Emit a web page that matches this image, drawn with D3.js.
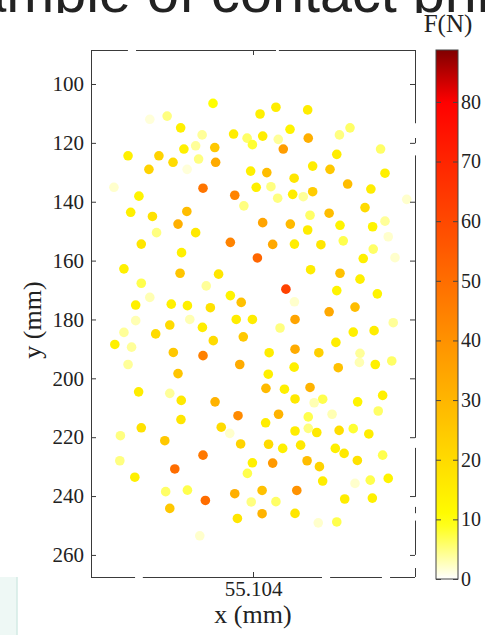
<!DOCTYPE html>
<html>
<head>
<meta charset="utf-8">
<script src="https://cdn.jsdelivr.net/npm/d3@7"></script>
<style>
  html, body { margin: 0; padding: 0; background: #fff; }
  svg { display: block; }
  text { font-family: "Liberation Serif", "Times New Roman", serif; fill: #222; }
</style>
</head>
<body>
<svg id="chart" width="485" height="635"></svg>
<script>
// Contact points: x / y position (mm) and contact force F (N)
const xMm = [
  41.5, 20.0, 25.9, 30.5, 37.8, 48.5, 53.1, 54.9, 12.6, 23.1,
  31.6, 35.6, 42.1, 42.4, 27.9, 36.6, 32.7, 19.7, 54.3, 56.2,
  7.8, 16.3, 38.1, 48.9, 52.0, 13.5, 20.9, 32.6, 29.6, 35.6,
  22.3, 17.1, 30.8, 47.4, 56.6, 57.5, 62.9, 73.7, 67.7, 58.4,
  63.7, 73.9, 65.4, 84.5, 88.1, 98.5, 83.6, 59.8, 69.1, 75.4,
  81.3, 100.0, 61.2, 68.6, 72.2, 63.5, 75.4, 87.3, 95.2, 107.4,
  93.2, 74.5, 81.0, 58.4, 67.8, 73.7, 84.7, 95.8, 100.0, 101.1,
  85.8, 61.8, 69.2, 78.2, 96.0, 92.6, 103.4, 11.2, 30.3, 43.4,
  17.1, 39.2, 20.0, 15.2, 27.3, 32.8, 40.6, 47.4, 51.1, 49.4,
  54.9, 15.2, 33.6, 26.8, 37.9, 11.2, 22.0, 41.6, 51.8, 8.1,
  13.8, 28.0, 38.1, 50.6, 12.6, 29.6, 16.2, 26.8, 30.7, 42.2,
  50.0, 30.6, 74.7, 84.7, 91.5, 66.3, 83.6, 97.4, 69.2, 81.0,
  89.8, 69.4, 64.3, 89.2, 96.3, 102.8, 83.3, 60.6, 69.4, 77.5,
  91.5, 91.3, 96.7, 102.3, 84.1, 69.1, 60.3, 59.5, 65.8, 74.5,
  69.4, 78.8, 90.7, 99.2, 75.9, 97.7, 63.8, 73.9, 82.0, 59.4,
  17.1, 10.0, 25.1, 44.3, 47.2, 50.9, 38.1, 9.8, 28.5, 14.9,
  54.9, 53.2, 25.4, 32.8, 38.9, 48.9, 54.5, 26.8, 49.8, 37.0,
  69.4, 73.9, 76.8, 84.4, 89.2, 94.5, 60.4, 65.2, 71.3, 83.1,
  86.1, 90.6, 99.2, 61.8, 73.5, 77.7, 78.8, 89.8, 95.0, 101.1,
  58.2, 70.0, 62.9, 86.3, 95.7, 58.2, 69.4, 77.3, 83.6
];
const yMm = [
  106.6, 112.0, 110.9, 114.9, 117.3, 117.0, 118.4, 120.6, 124.4, 124.4,
  122.1, 121.0, 121.6, 126.6, 126.6, 125.5, 129.0, 129.0, 129.6, 135.1,
  135.1, 138.1, 135.4, 137.8, 141.4, 143.6, 145.0, 143.3, 147.6, 150.5,
  150.5, 154.4, 157.3, 153.8, 159.1, 110.2, 107.9, 108.8, 115.4, 117.7,
  118.8, 118.4, 122.1, 117.3, 114.9, 122.1, 123.9, 130.1, 132.0, 127.9,
  129.0, 130.3, 134.9, 137.5, 138.3, 138.8, 136.6, 134.0, 135.7, 139.2,
  142.0, 144.6, 143.9, 147.1, 147.6, 149.6, 148.0, 148.5, 146.6, 151.9,
  153.3, 154.5, 154.4, 154.6, 156.1, 159.3, 159.0, 162.8, 164.3, 164.6,
  167.7, 168.6, 172.5, 175.1, 174.8, 175.3, 176.0, 171.9, 174.2, 180.0,
  180.0, 180.4, 180.0, 181.9, 182.7, 184.4, 184.9, 187.2, 185.9, 188.5,
  189.4, 191.2, 192.3, 195.3, 195.3, 198.4, 204.6, 205.1, 207.5, 208.0,
  212.7, 214.0, 163.1, 164.3, 166.3, 169.7, 170.2, 171.3, 174.0, 177.4,
  175.8, 180.0, 182.9, 184.3, 183.8, 181.1, 187.8, 191.3, 190.1, 191.3,
  191.5, 194.6, 195.3, 194.1, 196.4, 196.2, 198.6, 203.4, 203.7, 203.1,
  207.0, 207.1, 208.0, 205.8, 208.3, 211.1, 212.2, 213.1, 212.2, 215.1,
  216.8, 219.5, 221.2, 216.6, 218.7, 222.3, 226.1, 228.0, 230.8, 233.6,
  228.7, 232.3, 238.5, 238.0, 241.5, 239.2, 242.0, 244.2, 247.6, 253.5,
  217.9, 217.0, 218.4, 217.7, 217.1, 218.9, 222.4, 223.8, 222.7, 223.8,
  225.5, 227.9, 226.1, 228.8, 228.0, 230.0, 234.9, 235.7, 234.6, 234.0,
  238.1, 238.1, 241.9, 241.0, 240.7, 246.0, 245.9, 249.1, 248.8
];
const forceN = [
  10, 1.5, 5, 14, 4, 15, 6, 8, 14, 22,
  14, 4, 25, 33, 20, 5, 1.5, 22, 14, 14,
  2, 13, 48, 44, 5, 14, 18, 28, 32, 16,
  5, 17, 14, 44, 52, 14, 15, 15, 13, 15,
  4, 32, 37, 5, 6, 6, 15, 28, 17, 15,
  25, 14, 5, 15, 4, 5, 24, 28, 15, 2,
  20, 6, 28, 35, 29, 15, 13, 13, 4, 2,
  7, 34, 15, 17, 6, 14, 2, 14, 26, 17,
  7, 4, 3, 14, 14, 14, 18, 13, 27, 15,
  15, 3, 3, 20, 15, 4, 20, 20, 25, 14,
  4, 25, 45, 33, 4, 26, 15, 4, 16, 31,
  42, 17, 15, 27, 14, 62, 13, 13, 2, 34,
  28, 35, 5, 14, 15, 4, 15, 15, 33, 23,
  4, 3, 14, 6, 27, 14, 14, 29, 14, 31,
  16, 7, 13, 14, 3, 6, 31, 7, 3, 15,
  18, 5, 25, 20, 2, 22, 47, 5, 50, 14,
  14, 7, 6, 7, 50, 32, 5, 25, 17, 2,
  15, 5, 16, 19, 8, 15, 20, 14, 16, 14,
  16, 18, 7, 38, 28, 22, 15, 2, 7, 13,
  27, 40, 6, 15, 14, 31, 17, 2, 7
];

// Axis ticks
const yTicks = [100, 120, 140, 160, 180, 200, 220, 240, 260];
const xTicks = [55.104];
const cbTicks = [0, 10, 20, 30, 40, 50, 60, 70, 80];

// Plot extents (mm) and colour range (N)
const xDomain = [0, 110.208];
const yDomain = [88.45, 267.5];
const fDomain = [0, 88.7];

const svg = d3.select("#chart");

// Plot box
const box = { left: 91, right: 415, top: 50, bottom: 577 };
const x = d3.scaleLinear().domain(xDomain).range([box.left, box.right]);
const y = d3.scaleLinear().domain(yDomain).range([box.top, box.bottom]);

// Reversed "hot"-style colormap: white -> yellow -> red -> dark red
const color = d3.scaleLinear()
  .domain([0, 10, 80, fDomain[1]])
  .range(["#ffffff", "#ffff00", "#ff0000", "#800000"])
  .clamp(true);

// Slide title, mostly hidden above the figure
svg.append("clipPath").attr("id", "titleClip")
  .append("rect").attr("x", 0).attr("y", 0).attr("width", 485).attr("height", 13);
svg.append("text")
  .attr("clip-path", "url(#titleClip)")
  .attr("x", -93).attr("y", 12)
  .style("font-family", "'Liberation Sans', Arial, sans-serif")
  .style("font-size", "57.6px")
  .style("fill", "#222")
  .text("Example of contact print");

// Pale panel edge at bottom-left of the slide
svg.append("rect")
  .attr("x", 0).attr("y", 577).attr("width", 17).attr("height", 58)
  .attr("fill", "#eef8f5");
svg.append("line")
  .attr("x1", 17).attr("x2", 17).attr("y1", 577).attr("y2", 635)
  .attr("stroke", "#d3ebe4").attr("stroke-width", 1.5);

// Points
const pts = xMm.map((v, i) => ({ x: v, y: yMm[i], f: forceN[i] }));
svg.append("g").selectAll("circle")
  .data(pts)
  .join("circle")
  .attr("cx", d => x(d.x))
  .attr("cy", d => y(d.y))
  .attr("r", 4.8)
  .attr("fill", d => color(d.f));

// Axes
const axisColor = "#3a3a3a";
const labelFont = sel => sel.style("font-size", "21px").attr("fill", "#222")
  .style("font-family", "'Liberation Serif', serif");

const gy = svg.append("g")
  .attr("transform", `translate(${box.left},0)`)
  .call(d3.axisLeft(y).tickValues(yTicks).tickSizeInner(-5).tickSizeOuter(0).tickPadding(7));
gy.selectAll("text").call(labelFont);
gy.selectAll(".tick line").attr("stroke", axisColor);
gy.select(".domain").attr("stroke", axisColor);

const gyr = svg.append("g")
  .attr("transform", `translate(${box.right},0)`)
  .call(d3.axisRight(y).tickValues(yTicks).tickSizeInner(-5).tickSizeOuter(0).tickFormat(""));
gyr.select(".domain").remove();
gyr.selectAll(".tick line").attr("stroke", axisColor);

const gx = svg.append("g")
  .attr("transform", `translate(0,${box.bottom})`)
  .call(d3.axisBottom(x).tickValues(xTicks).tickSizeInner(-5).tickSizeOuter(0)
    .tickFormat(d3.format(".3f")).tickPadding(4));
gx.select(".domain").remove();
gx.selectAll(".tick line").attr("stroke", axisColor);
gx.selectAll("text").call(labelFont);

const gxt = svg.append("g")
  .attr("transform", `translate(0,${box.top})`)
  .call(d3.axisTop(x).tickValues(xTicks).tickSizeInner(-5).tickSizeOuter(0).tickFormat(""));
gxt.select(".domain").remove();
gxt.selectAll(".tick line").attr("stroke", axisColor);

// Top, right and bottom frame edges, drawn in broken pieces
const frame = svg.append("g").attr("stroke", axisColor).attr("stroke-width", 1).attr("fill", "none");
const topPieces = [[0, 0.114], [0.139, 0.571], [0.580, 1]];
const bottomPieces = [[0, 0.136], [0.160, 0.713], [0.738, 0.898], [0.923, 1]];
const rightPieces = [[0, 0.139], [0.167, 0.177], [0.200, 0.736], [0.755, 0.848], [0.867, 0.879], [0.893, 0.958], [0.983, 1]];
const W = box.right - box.left, H = box.bottom - box.top;
topPieces.forEach(([a, b]) => frame.append("line")
  .attr("x1", box.left + a * W).attr("x2", box.left + b * W)
  .attr("y1", box.top + 0.5).attr("y2", box.top + 0.5));
bottomPieces.forEach(([a, b]) => frame.append("line")
  .attr("x1", box.left + a * W).attr("x2", box.left + b * W)
  .attr("y1", box.bottom + 0.5).attr("y2", box.bottom + 0.5));
rightPieces.forEach(([a, b]) => frame.append("line")
  .attr("x1", box.right + 0.5).attr("x2", box.right + 0.5)
  .attr("y1", box.top + a * H).attr("y2", box.top + b * H));

// Axis titles
svg.append("text")
  .attr("x", x(55.104)).attr("y", 623)
  .attr("text-anchor", "middle")
  .style("font-size", "26px")
  .text("x (mm)");
svg.append("text")
  .attr("transform", `translate(41,320) rotate(-90)`)
  .attr("text-anchor", "middle")
  .style("font-size", "26px")
  .text("y (mm)");

// Colour bar
const cb = { left: 436, right: 458, top: 50, bottom: 579 };
const cbScale = d3.scaleLinear().domain(fDomain).range([cb.bottom, cb.top]);
const grad = svg.append("defs").append("linearGradient")
  .attr("id", "cbGrad").attr("x1", 0).attr("x2", 0).attr("y1", 1).attr("y2", 0);
d3.range(0, 41).forEach(i => {
  const v = fDomain[0] + (fDomain[1] - fDomain[0]) * i / 40;
  grad.append("stop").attr("offset", (i / 40) * 100 + "%").attr("stop-color", color(v));
});
svg.append("rect")
  .attr("x", cb.left).attr("y", cb.top)
  .attr("width", cb.right - cb.left).attr("height", cb.bottom - cb.top)
  .attr("fill", "url(#cbGrad)")
  .attr("stroke", "#444").attr("stroke-width", 1);

const gcb = svg.append("g")
  .attr("transform", `translate(${cb.right},0)`)
  .call(d3.axisRight(cbScale).tickValues(cbTicks).tickSizeInner(-5).tickSizeOuter(0).tickPadding(3));
gcb.select(".domain").remove();
gcb.selectAll(".tick line").attr("stroke", "#444");
gcb.selectAll("text").call(labelFont).style("font-size", "20px");
const gcbl = svg.append("g")
  .attr("transform", `translate(${cb.left},0)`)
  .call(d3.axisLeft(cbScale).tickValues(cbTicks).tickSizeInner(-5).tickSizeOuter(0).tickFormat(""));
gcbl.select(".domain").remove();
gcbl.selectAll(".tick line").attr("stroke", "#444");

svg.append("text")
  .attr("x", 448).attr("y", 32)
  .attr("text-anchor", "middle")
  .style("font-size", "25px")
  .text("F(N)");
</script>
</body>
</html>
